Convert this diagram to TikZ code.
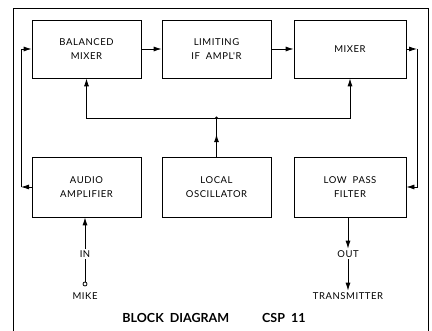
\documentclass[tikz,border=0pt]{standalone}
\usepackage{fontspec}
\setmainfont{Lato}
\usepackage{tikz}
\usetikzlibrary{arrows.meta,calc}

\newfontfamily\blkfont[LetterSpace=6]{Lato}

\tikzset{
    blk/.style={draw, line width=0.8pt, minimum width=109pt, minimum height=58pt,
        align=center, font=\blkfont\fontsize{9.5}{14}\selectfont, inner sep=0pt},
    lbl/.style={font=\blkfont\fontsize{9.5}{11}\selectfont, inner sep=1.5pt},
    arr/.style={-{Latex[length=8pt,width=5pt]}},
}

\begin{document}
\begin{tikzpicture}[x=1pt, y=-1pt, line width=0.8pt]
    \useasboundingbox (0,0) rectangle (432,331);

    % --- 1. OUTER FRAME (runs off the bottom) ---
    \draw (13,331) -- (13,8) -- (428,8) -- (428,331);

    % --- 2. THE SIX BLOCKS ---
    \node[blk] (bal) at (86.5,49)  {BALANCED\\MIXER};
    \node[blk] (lim) at (216.5,49) {LIMITING\\IF\ \ AMPL'R};
    \node[blk, minimum width=112pt] (mix) at (350,49) {MIXER};
    \node[blk, minimum height=60pt] (aud) at (86.5,187) {AUDIO\\AMPLIFIER};
    \node[blk, minimum height=60pt] (lo)  at (216.5,187) {LOCAL\\OSCILLATOR};
    \node[blk, minimum height=60pt, minimum width=112pt] (lpf) at (350,187) {LOW\ \ PASS\\FILTER};

    % --- 3. SIGNAL PATH ---
    \draw[arr] (bal) -- (lim);
    \draw[arr] (lim) -- (mix);

    % side loops: audio -> balanced mixer, mixer -> low pass
    \coordinate (cl) at (21,187);
    \coordinate (cr) at (417,49);
    \draw[arr] (aud.west) -- (cl);
    \draw[arr] (cl) |- (bal.west);
    \draw[arr] (mix.east) -- (cr);
    \draw[arr] (cr) |- (lpf.east);

    % local oscillator feeds both mixers
    \coordinate (jn) at (216.5,118);
    \draw (lo.north) -- (jn);
    \draw[arr] (lo.north) -- ($(lo.north)!0.58!(jn)$);
    \fill (jn) circle (1.6pt);
    \foreach \dst in {bal, mix} {
        \draw[arr] (jn) -| (\dst.south);
    }

    % --- 4. INPUT AND OUTPUT ---
    \node[lbl] (in)   at (85,254) {IN};
    \node[draw, circle, inner sep=0pt, minimum size=4pt] (mike) at (85,284) {};
    \node[lbl] (mikelbl) at (85,296) {MIKE};
    \draw (mike) -- (in);
    \draw[arr] (in) -- (in |- aud.south);

    \node[lbl] (out) at (348,254) {OUT};
    \node[lbl] (tx)  at (348,296) {TRANSMITTER};
    \draw[arr] (out |- lpf.south) -- (out);
    \draw[arr] (out) -- (tx);

    % --- 5. CAPTION ---
    \node[font=\fontsize{12.5}{14}\selectfont\bfseries] (cap) at (214,318)
        {BLOCK\ \ DIAGRAM\hspace{33pt}CSP\ \ 11};
\end{tikzpicture}
\end{document}
